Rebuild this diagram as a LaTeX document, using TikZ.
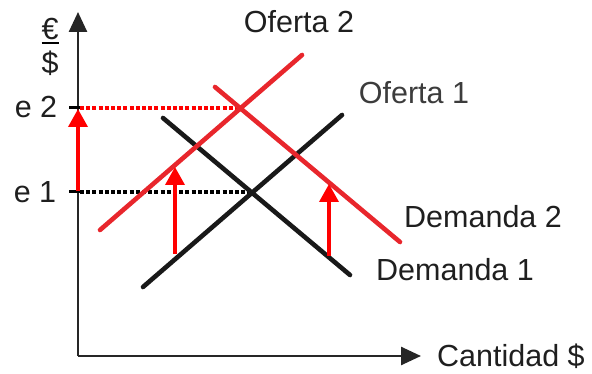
\documentclass[tikz,border=0pt]{standalone}
\usepackage{fontspec}
\setmainfont{Liberation Sans}
\usetikzlibrary{arrows.meta}
\definecolor{lred}{RGB}{232,38,44}
\definecolor{gtext}{RGB}{60,60,60}
\tikzset{
  axisline/.style={line width=2.6pt,draw=black!85,-{Triangle[width=18pt,length=20pt]}},
  blackcurve/.style={line width=4.6pt,draw=black!90,line cap=round},
  redcurve/.style={line width=4.6pt,draw=lred,line cap=round},
  dotline/.style={line width=3.6pt,dash pattern=on 4pt off 2.2pt},
  shiftarrow/.style={line width=3.6pt,draw=red,-{Triangle[width=19pt,length=18pt]}},
  lbl/.style={font=\fontsize{30.5}{33}\selectfont,inner sep=0pt,text=black!88},
}
\begin{document}
\begin{tikzpicture}[x=1pt,y=-1pt]
\useasboundingbox (0,0) rectangle (592,374);
% axes
\coordinate (O) at (78,356);
\coordinate (Ytop) at (78,12);
\coordinate (Xend) at (421,356);
\draw[axisline] (O) -- (Ytop);
\draw[axisline] (O) -- (Xend);
% axis labels
\node[lbl] (eur) at (50,29) {€};
\draw[line width=2.2pt] (41.5,43) -- (58.5,43);
\node[lbl] (dol) at (50,63) {\$};
\node[lbl] (e2) at (36,107) {e 2};
\node[lbl] (e1) at (35,192) {e 1};
\node[lbl,anchor=west] (cant) at (437,356) {Cantidad \$};
% ticks
\coordinate (t2a) at (69,108); \coordinate (t2b) at (80,108);
\coordinate (t1a) at (69,192); \coordinate (t1b) at (80,192);
\draw[line width=3pt] (t2a) -- (t2b);
\draw[line width=3pt] (t1a) -- (t1b);
% curves
\coordinate (o1a) at (143,287); \coordinate (o1b) at (342,115);
\coordinate (d1a) at (163,118); \coordinate (d1b) at (350,275);
\coordinate (o2a) at (100,230); \coordinate (o2b) at (302,55);
\coordinate (d2a) at (215,87);  \coordinate (d2b) at (400,242);
\coordinate (E1) at (252,192);
\coordinate (E2) at (241,108);
\draw[dotline,draw=black] (t1b) -- (E1);
\draw[dotline,draw=red] (t2b) -- (E2);
\draw[blackcurve] (o1a) -- (o1b);
\draw[blackcurve] (d1a) -- (d1b);
\draw[redcurve] (o2a) -- (o2b);
\draw[redcurve] (d2a) -- (d2b);
% shift arrows
\coordinate (a1s) at (175,254); \coordinate (a1e) at (175,167);
\coordinate (a2s) at (329,256); \coordinate (a2e) at (329,184);
\coordinate (a0s) at (78,191);  \coordinate (a0e) at (78,109);
\draw[shiftarrow] (a1s) -- (a1e);
\draw[shiftarrow] (a2s) -- (a2e);
\draw[shiftarrow] (a0s) -- (a0e);
% curve labels
\node[lbl] (lo2) at (299,22) {Oferta 2};
\node[lbl,text=gtext] (lo1) at (414,93) {Oferta 1};
\node[lbl,anchor=west] (ld2) at (404,217) {Demanda 2};
\node[lbl,anchor=west] (ld1) at (376,270) {Demanda 1};
\end{tikzpicture}
\end{document}
